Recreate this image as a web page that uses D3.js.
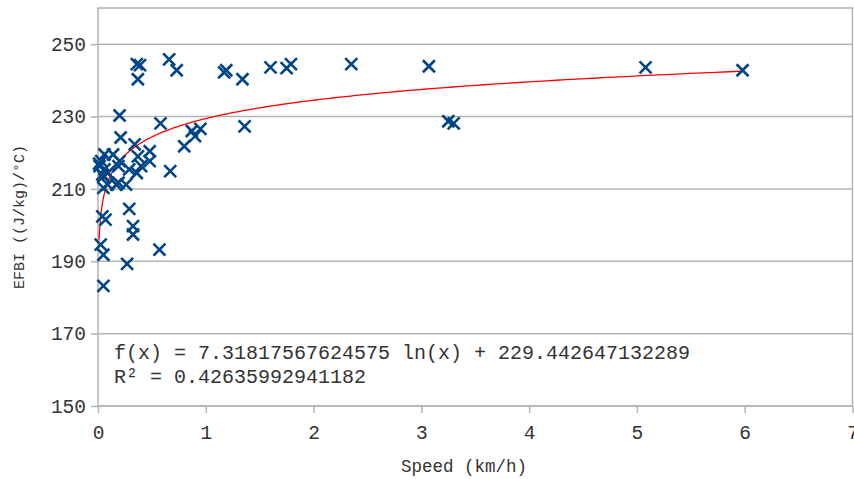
<!DOCTYPE html>
<html>
<head>
<meta charset="utf-8">
<script src="https://cdn.jsdelivr.net/npm/d3@7"></script>
<style>
  body { margin: 0; background: #fff; }
  text { font-family: "Liberation Mono", "Courier New", monospace; fill: #333; }
</style>
</head>
<body>
<div class="main"></div>
<script>
////Data
const speed = [5.98, 5.08, 3.07, 2.35, 3.25, 3.30, 1.79, 1.75, 1.60, 1.34,
  1.36, 1.19, 1.17, 0.73, 0.66, 0.36, 0.39, 0.37, 0.20, 0.58,
  0.21, 0.80, 0.87, 0.90, 0.95, 0.67, 0.57, 0.48, 0.48, 0.40,
  0.325, 0.325, 0.29, 0.27, 0.05, 0.025, 0.05, 0.04, 0.07, 0.05,
  0.17, 0.26, 0.34, 0.37, 0.29, 0.36, 0.14, 0.20, 0.19, 0.06,
  0.03, 0.015, 0.06, 0.09, 0.05, 0.09, 0.19, 0.01, 0.04];
const efbi = [242.8, 243.6, 243.9, 244.5, 228.7, 228.1, 244.5, 243.4, 243.6, 240.3,
  227.3, 242.8, 242.2, 242.8, 245.8, 244.5, 244.2, 240.3, 230.3, 228.1,
  224.2, 221.8, 226.0, 224.6, 226.6, 214.9, 193.2, 220.4, 217.7, 216.3,
  199.7, 197.4, 204.5, 189.3, 183.2, 194.6, 191.8, 202.4, 201.5, 210.3,
  211.2, 211.2, 222.3, 219.0, 215.4, 214.4, 219.5, 217.7, 216.3, 219.5,
  217.7, 216.3, 215.4, 214.4, 213.5, 211.2, 211.7, 217.0, 214.0];
const xTicks = [0, 1, 2, 3, 4, 5, 6, 7];
const yTicks = [150, 170, 190, 210, 230, 250];
// trend line coefficients shown on the chart
const trendA = 7.31817567624575;
const trendB = 229.442647132289;
const eqLines = ['f(x) = 7.31817567624575 ln(x) + 229.442647132289', 'R\u00b2 = 0.42635992941182'];

////Globals
const width = 854;
const height = 479;
const margin = { top: 8, right: 1.5, bottom: 73, left: 98 };
const innerW = width - margin.left - margin.right;
const innerH = height - margin.top - margin.bottom;
const gridColor = '#b3b3b3';
const dotColor = '#004586';

const svg = d3.select('.main').append('svg')
  .attr('width', width)
  .attr('height', height);

const x = d3.scaleLinear().domain([0, 7]).range([0, innerW]);
const y = d3.scaleLinear().domain([150, 260]).range([innerH, 0]);

const g = svg.append('g').attr('transform', `translate(${margin.left},${margin.top})`);

// gridlines
g.append('g')
  .selectAll('line')
  .data(yTicks)
  .enter()
  .append('line')
  .attr('x1', 0)
  .attr('x2', innerW)
  .attr('y1', d => y(d))
  .attr('y2', d => y(d))
  .attr('stroke', gridColor)
  .attr('stroke-width', 1.5);

// frame
g.append('rect')
  .attr('width', innerW)
  .attr('height', innerH)
  .attr('fill', 'none')
  .attr('stroke', gridColor)
  .attr('stroke-width', 1.5);

// axes
const yAxis = g.append('g')
  .call(d3.axisLeft(y).tickValues(yTicks).tickSize(7).tickPadding(5));
const xAxis = g.append('g')
  .attr('transform', `translate(0,${innerH})`)
  .call(d3.axisBottom(x).tickValues(xTicks).tickFormat(d3.format('d')).tickSize(7).tickPadding(12));
[xAxis, yAxis].forEach(a => {
  a.select('.domain').remove();
  a.selectAll('line').attr('stroke', gridColor).attr('stroke-width', 1.5);
  a.selectAll('text').attr('font-size', 19.5).attr('fill', '#333')
    .attr('font-family', '"Liberation Mono", monospace');
});

// trend line
const xMin = d3.min(speed);
const xMax = d3.max(speed);
const trendPts = d3.range(0, 301).map(i => {
  const v = xMin * Math.pow(xMax / xMin, i / 300);
  return [v, trendA * Math.log(v) + trendB];
});
g.append('path')
  .datum(trendPts)
  .attr('fill', 'none')
  .attr('stroke', '#ff0000')
  .attr('stroke-width', 1.3)
  .attr('d', d3.line().x(d => x(d[0])).y(d => y(d[1])));

// markers
const s = 6;
g.append('g')
  .selectAll('path')
  .data(speed.map((v, i) => [v, efbi[i]]))
  .enter()
  .append('path')
  .attr('d', d => {
    const cx = x(d[0]), cy = y(d[1]);
    return `M${cx - s},${cy - s}L${cx + s},${cy + s}M${cx - s},${cy + s}L${cx + s},${cy - s}`;
  })
  .attr('stroke', dotColor)
  .attr('stroke-width', 2.6)
  .attr('fill', 'none');

// equation
g.append('g')
  .selectAll('text')
  .data(eqLines)
  .enter()
  .append('text')
  .attr('x', 16)
  .attr('y', (_, i) => 351 + i * 24)
  .attr('font-size', 20)
  .text(d => d);

// axis titles
svg.append('text')
  .attr('x', 464)
  .attr('y', 472)
  .attr('text-anchor', 'middle')
  .attr('font-size', 17.5)
  .text('Speed (km/h)');

svg.append('text')
  .attr('transform', 'translate(24,217) rotate(-90)')
  .attr('text-anchor', 'middle')
  .attr('font-size', 15)
  .text('EFBI ((J/kg)/\u00b0C)');
</script>
</body>
</html>
